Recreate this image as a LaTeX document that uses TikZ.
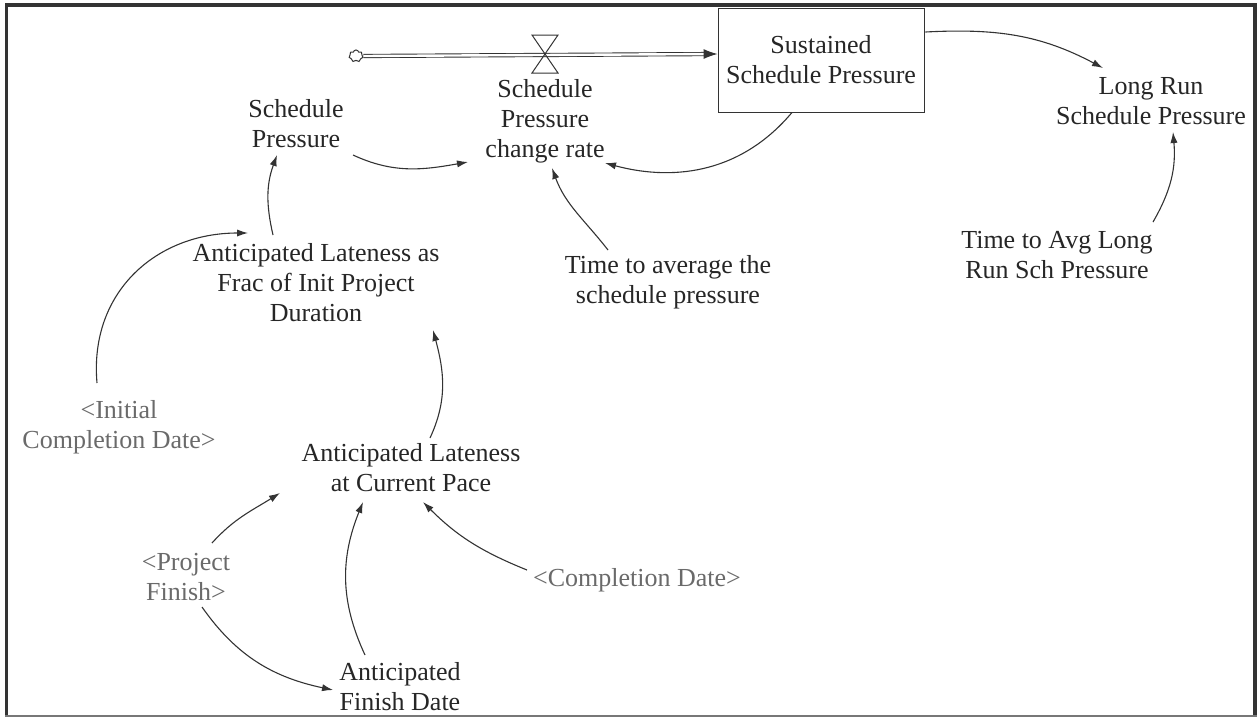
\documentclass[tikz,border=0pt]{standalone}
\usepackage{fontspec}
\setmainfont{Liberation Serif}
\usetikzlibrary{arrows.meta,shapes.symbols}
\definecolor{ink}{HTML}{262626}
\definecolor{shadowink}{HTML}{6A6A6A}
\definecolor{edge}{HTML}{333333}
\definecolor{framebot}{HTML}{777777}

\begin{document}
\begin{tikzpicture}[x=0.5pt,y=-0.5pt,
  lbl/.style={font=\fontsize{13}{15}\selectfont, align=center, inner sep=0pt},
  var/.style={lbl, text=ink},
  shadowvar/.style={lbl, text=shadowink},
  stockbox/.style={lbl, text=ink, draw=edge, line width=0.45pt,
    minimum width=103pt, minimum height=52pt},
  link/.style={draw=edge, line width=0.55pt, -{Latex[length=5.5pt,width=3.6pt]}},
  pipe/.style={draw=edge, line width=0.45pt, double=white, double distance=1.2pt},
  pipehead/.style={draw=edge, line width=0.5pt, -{Latex[length=7pt,width=5pt]}},
  valveline/.style={draw=edge, line width=0.5pt, line join=miter},
  frameline/.style={draw=edge, line width=1.6pt, line join=miter},
  framebottom/.style={draw=framebot, line width=1pt}
]
\useasboundingbox (0,0) rectangle (1259,719);

% outer frame
\draw[frameline] (6.5,716) -- (6.5,5) -- (1255,5) -- (1255,716);
\draw[framebottom] (5,716) -- (1256.5,716);

% stock, source cloud and rate
\node[stockbox] (stock) at (821,60) {Sustained\\Schedule Pressure};
\node[cloud, draw=edge, line width=0.5pt, cloud puffs=7, aspect=1.2,
      minimum width=7pt, minimum height=6pt, inner sep=0pt] (source) at (356,56) {};
\coordinate (inlet) at ([shift={(0,-6)}]stock.west);
\coordinate (valve) at (545,54);
\node[var] (spcr) at (545,121) {Schedule\\Pressure\\change rate};

% auxiliaries
\node[var] (sp)   at (296,124) {Schedule\\Pressure};
\node[var] (lrsp) at (1151,101) {Long Run\\Schedule Pressure};
\node[var] (talr) at (1057,255) {Time to Avg Long\\Run Sch Pressure};
\node[var] (tavg) at (668,282) {Time to average the\\schedule pressure};
\node[var] (alf)  at (316,283) {Anticipated Lateness as\\Frac of Init Project\\Duration};
\node[shadowvar] (icd) at (119,427) {<Initial\\Completion Date>};
\node[var] (alcp) at (411,468) {Anticipated Lateness\\at Current Pace};
\node[shadowvar] (pf) at (186,577) {<Project\\Finish>};
\node[shadowvar] (cd) at (637,580) {<Completion Date>};
\node[var] (afd)  at (400,687) {Anticipated\\Finish Date};

% flow pipe with valve
\draw[pipe, shorten >=6pt] (source.east) -- (inlet);
\draw[pipehead] ([shift={(-14,0)}]inlet) -- (inlet);
\draw[valveline] ([shift={(-13,-19)}]valve) -- ([shift={(13,-19)}]valve)
  -- ([shift={(-13,19)}]valve) -- ([shift={(13,19)}]valve) -- cycle;

% causal links
\draw[link] ([shift={(57,31)}]sp.center) to[out=-25,in=190] ([shift={(-77,41)}]spcr.center);
\draw[link] ([shift={(-29,0)}]stock.south) to[out=-130,in=-15] ([shift={(60,42)}]spcr.center);
\draw[link] ([shift={(-60,-32)}]tavg.center) to[out=128,in=-70] ([shift={(7,47)}]spcr.center);
\draw[link] ([shift={(1,-28)}]stock.east) to[out=3,in=152] ([shift={(-48,-33)}]lrsp.center);
\draw[link] ([shift={(96,-33)}]talr.center) to[out=60,in=-85] ([shift={(22,31)}]lrsp.center);
\draw[link] ([shift={(-43,-48)}]alf.center) to[out=103,in=-110] ([shift={(-19,31)}]sp.center);
\draw[link] ([shift={(-22,-44)}]icd.center) to[out=95,in=180,looseness=1.1] ([shift={(-68,-50)}]alf.center);
\draw[link] ([shift={(19,-30)}]alcp.center) to[out=65,in=-75] ([shift={(117,47)}]alf.center);
\draw[link] ([shift={(26,-34)}]pf.center) to[out=48,in=-148] ([shift={(-131,25)}]alcp.center);
\draw[link] ([shift={(16,30)}]pf.center) to[out=-55,in=168] ([shift={(-67,3)}]afd.center);
\draw[link] ([shift={(-35,-32)}]afd.center) to[out=115,in=-112] ([shift={(-48,34)}]alcp.center);
\draw[link] ([shift={(-110,-10)}]cd.center) to[out=158,in=-45] ([shift={(12,34)}]alcp.center);
\end{tikzpicture}
\end{document}
